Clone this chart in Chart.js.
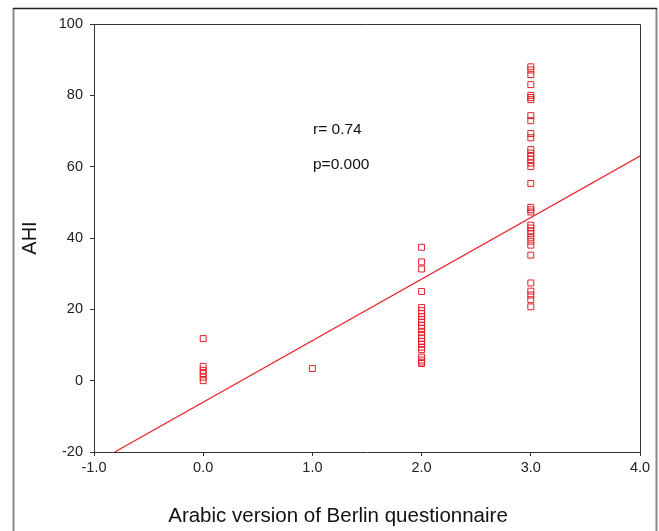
<!DOCTYPE html>
<html>
  <head>
    <meta charset="utf-8">
    <script src="https://cdn.jsdelivr.net/npm/chart.js@4.4.0/dist/chart.umd.min.js"></script>
    <style>
      body { margin: 0; background: #fff; }
    </style>
  </head>
  <body>
    <canvas id="ahiChart" width="659" height="531"></canvas>
    <script>
      // group scores on the questionnaire and AHI readings per group
      const groupScores = [0, 1, 2, 3];
      const ahiScore0 = [11.8, 4.0, 2.9, 2.0, 1.0, 0.0];
      const ahiScore1 = [3.4];
      const ahiScore2 = [37.4, 33.3, 31.3, 25.0, 20.5, 19.6, 18.8, 18.0, 17.2, 16.4, 15.5, 14.6,
                         13.6, 12.7, 11.9, 11.0, 10.2, 9.4, 8.7, 6.6, 5.8, 5.2, 4.8];
      const ahiScore3 = [88.0, 87.1, 85.8, 83.0, 80.0, 79.4, 78.8, 74.3, 72.9, 69.3, 68.1, 64.8,
                         63.8, 62.9, 62.0, 61.0, 60.0, 55.3, 48.6, 47.9, 47.3, 43.6, 42.8, 42.0,
                         41.3, 40.2, 39.1, 38.0, 35.2, 27.4, 25.1, 24.0, 22.7, 20.7];
      const fitX = [-0.81, 4.0];
      const fitY = [-20, 63.0];
      const notes = ['r= 0.74', 'p=0.000'];
      const xTitle = 'Arabic version of Berlin questionnaire';

      const red = 'rgb(232,30,40)';
      const font = "'Liberation Sans', Arial, sans-serif";

      const groups = [ahiScore0, ahiScore1, ahiScore2, ahiScore3];
      const points = [];
      groups.forEach((vals, i) => {
        vals.forEach(v => points.push({x: groupScores[i], y: v}));
      });
      const fitLine = fitX.map((x, i) => ({x: x, y: fitY[i]}));

      const framePlugin = {
        id: 'frame',
        afterDraw(chart) {
          const ctx = chart.ctx;
          const a = chart.chartArea;
          ctx.save();
          // plot box top and right
          ctx.strokeStyle = '#333';
          ctx.lineWidth = 1;
          ctx.beginPath();
          ctx.moveTo(a.left, a.top + 0.5);
          ctx.lineTo(a.right + 0.5, a.top + 0.5);
          ctx.lineTo(a.right + 0.5, a.bottom);
          ctx.stroke();
          // outer frame
          ctx.strokeStyle = '#888';
          ctx.lineWidth = 2;
          ctx.beginPath();
          ctx.moveTo(13.5, 531);
          ctx.lineTo(13.5, 8);
          ctx.moveTo(656.5, 8);
          ctx.lineTo(656.5, 531);
          ctx.stroke();
          ctx.strokeStyle = '#222';
          ctx.lineWidth = 1.5;
          ctx.beginPath();
          ctx.moveTo(13, 8.5);
          ctx.lineTo(657, 8.5);
          ctx.stroke();
          // texts
          ctx.fillStyle = '#111';
          ctx.textBaseline = 'middle';
          ctx.textAlign = 'left';
          ctx.font = '15.5px ' + font;
          ctx.fillText(notes[0], 313, 130);
          ctx.fillText(notes[1], 313, 165);
          ctx.textAlign = 'center';
          ctx.font = '20.5px ' + font;
          ctx.fillText(xTitle, 338, 516);
          ctx.restore();
        }
      };

      new Chart(document.getElementById('ahiChart'), {
        type: 'scatter',
        data: {
          datasets: [{
            data: points,
            pointStyle: 'rect',
            pointRadius: 4.2,
            pointHoverRadius: 4.2,
            borderColor: red,
            backgroundColor: 'rgba(255,255,255,0)',
            borderWidth: 1
          }, {
            type: 'line',
            data: fitLine,
            borderColor: red,
            borderWidth: 1.2,
            pointRadius: 0,
            fill: false
          }]
        },
        options: {
          responsive: false,
          animation: false,
          layout: { padding: { top: 24, right: 19, left: 0, bottom: 0 } },
          plugins: { legend: { display: false }, tooltip: { enabled: false } },
          scales: {
            x: {
              type: 'linear',
              min: -1,
              max: 4,
              afterFit(scale) { scale.height = 79; },
              ticks: {
                stepSize: 1,
                padding: 3,
                color: '#222',
                font: { family: font, size: 14.5 },
                maxRotation: 0,
                callback: v => v.toFixed(1)
              },
              grid: { drawOnChartArea: false, tickLength: 4, color: '#333' },
              border: { color: '#333', width: 1 }
            },
            y: {
              min: -20,
              max: 100,
              afterFit(scale) { scale.width = 94; },
              ticks: {
                stepSize: 20,
                padding: 7,
                color: '#222',
                font: { family: font, size: 14.5 }
              },
              grid: { drawOnChartArea: false, tickLength: 4, color: '#333' },
              border: { color: '#333', width: 1 },
              title: {
                display: true,
                text: 'AHI',
                color: '#111',
                font: { family: font, size: 20 },
                padding: { top: 18, bottom: 0 }
              }
            }
          }
        },
        plugins: [framePlugin]
      });
    </script>
  </body>
</html>
